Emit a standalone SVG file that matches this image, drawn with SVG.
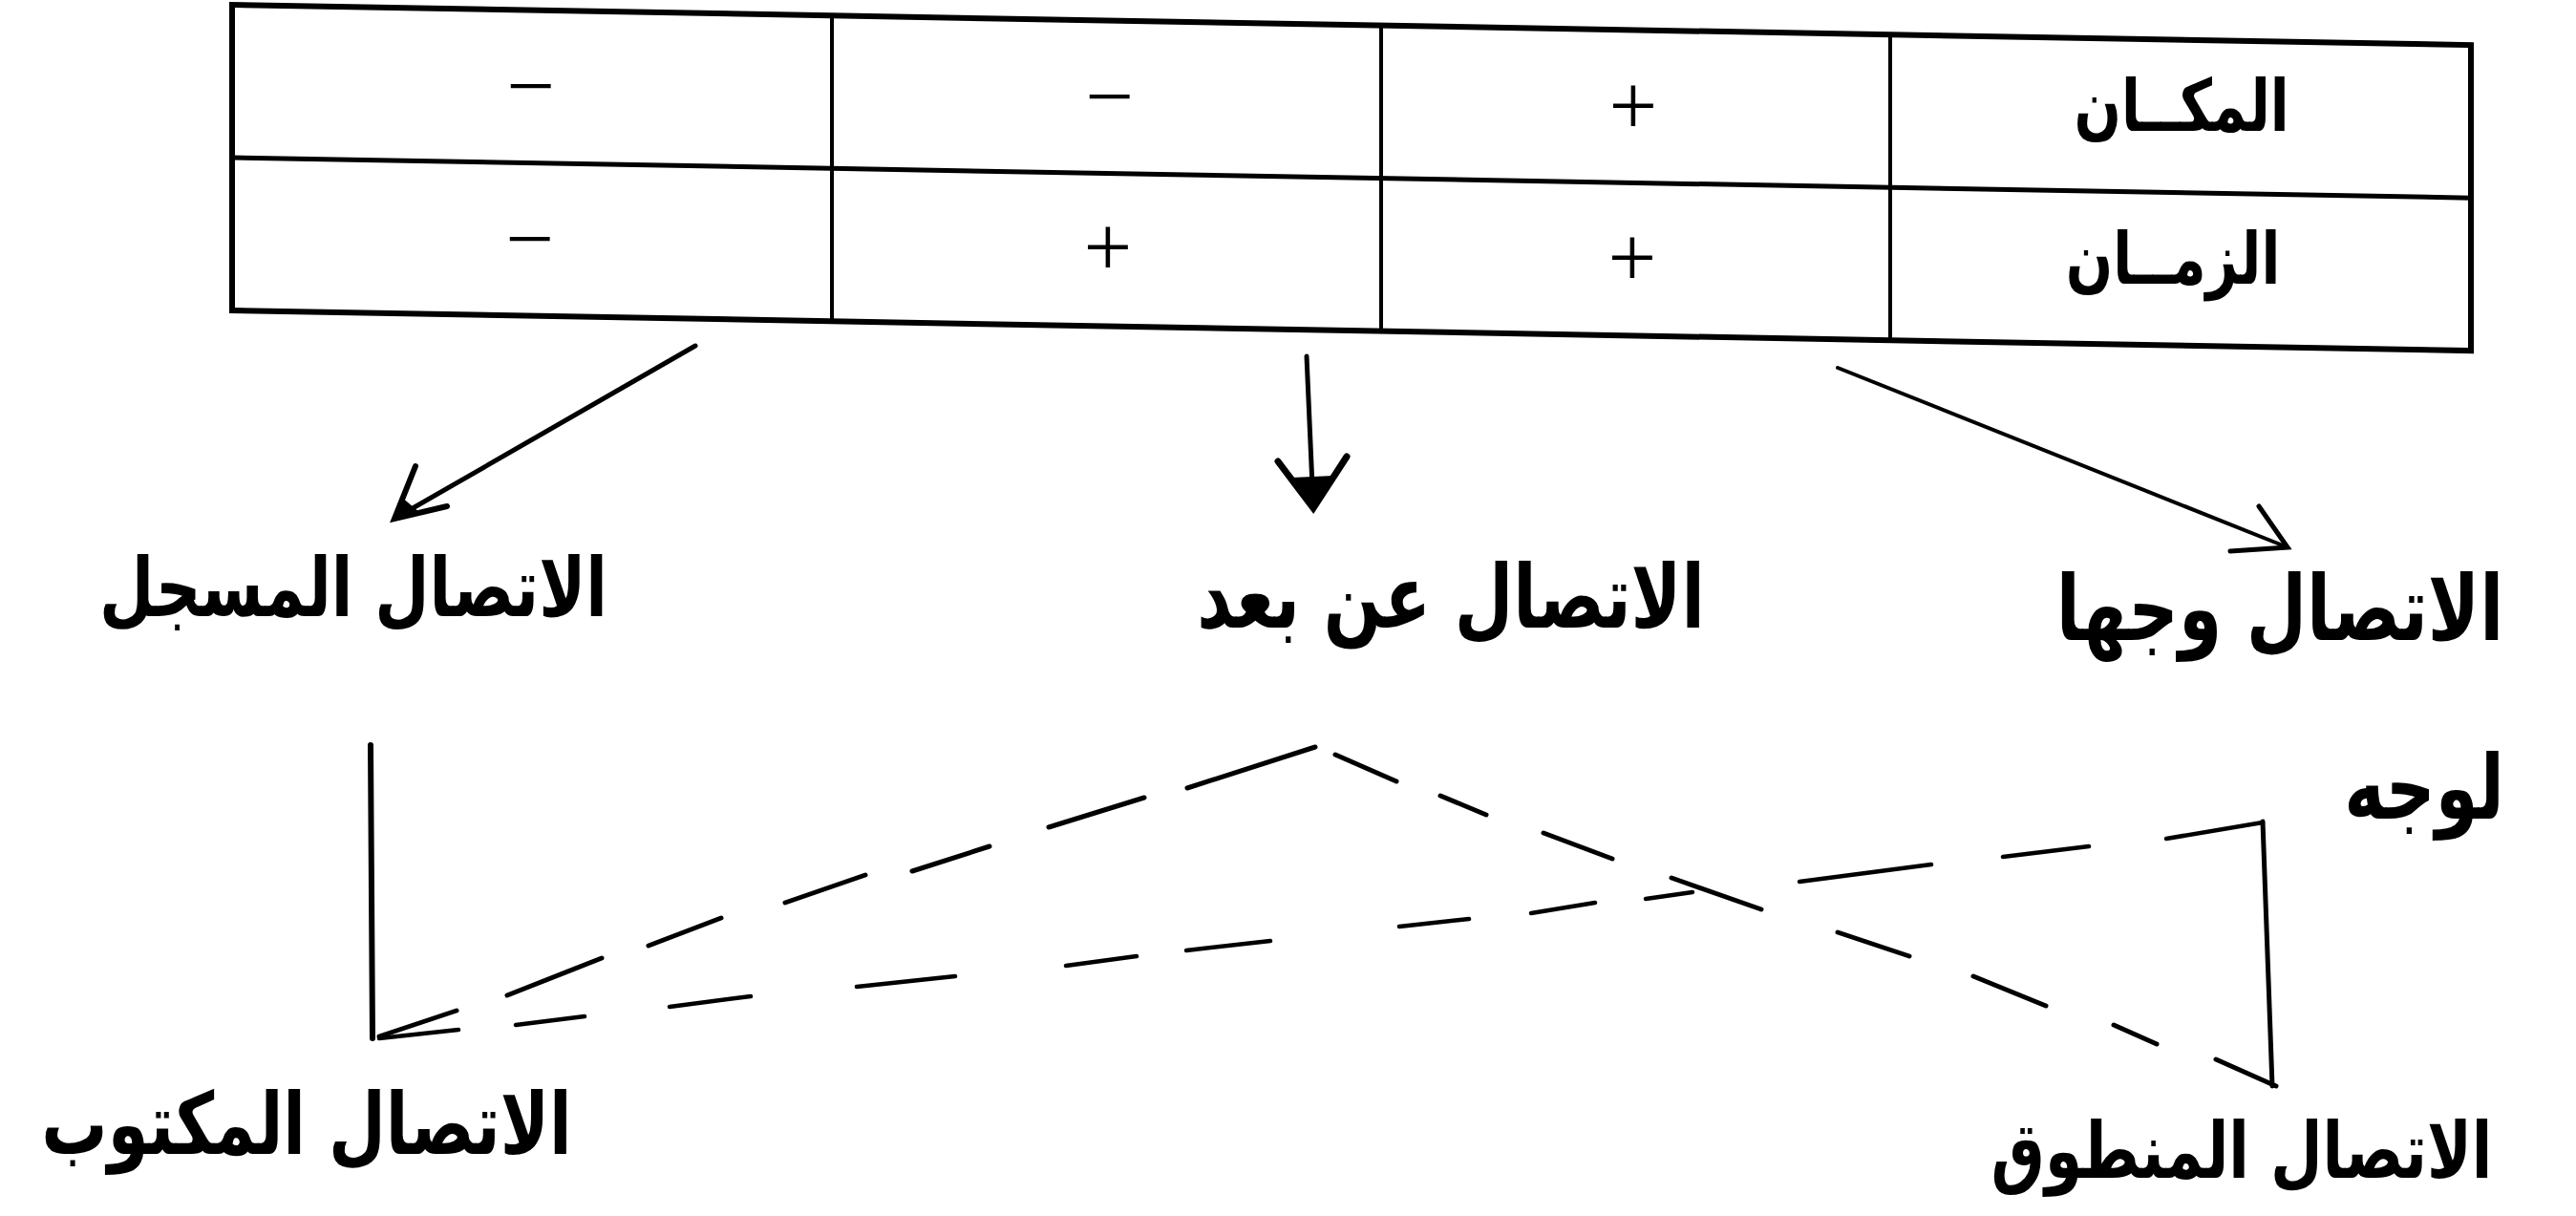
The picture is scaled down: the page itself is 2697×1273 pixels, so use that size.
<svg xmlns="http://www.w3.org/2000/svg" width="2697" height="1273" viewBox="0 0 2697 1273">
<style>
.bg{fill:#fff}
.grid-o{fill:none;stroke:#000;stroke-width:6}
.grid-h{stroke:#000;stroke-width:5}
.grid-v{stroke:#000;stroke-width:4}
.sym{font-family:"Liberation Serif",serif;font-size:90px;fill:#000;text-anchor:middle}
.ar{font-family:"DejaVu Sans",sans-serif;font-weight:bold;fill:#000;text-anchor:middle}
.cell{font-size:58px}
.lbl{font-size:70px}
.shaft{fill:none;stroke:#000;stroke-width:5;stroke-linecap:round}
.head{fill:none;stroke:#000;stroke-width:6;stroke-linecap:round;stroke-linejoin:miter}
.solid{fill:none;stroke:#000;stroke-width:6;stroke-linecap:round}
.dash{fill:none;stroke:#000;stroke-width:5;stroke-linecap:round}
</style>
<rect class="bg" x="0" y="0" width="2697" height="1273"/>

<g id="table">
  <g transform="translate(243,5) skewY(1.03)">
    <rect class="grid-o" x="0" y="0" width="2344" height="320"/>
    <line class="grid-h" x1="0" y1="160" x2="2344" y2="160"/>
    <line class="grid-v" x1="628" y1="0" x2="628" y2="320"/>
    <line class="grid-v" x1="1203" y1="0" x2="1203" y2="320"/>
    <line class="grid-v" x1="1736" y1="0" x2="1736" y2="320"/>
  </g>
  <g id="row-place">
    <text class="ar cell" transform="translate(2284,137) scale(1,1.3)">المكــان</text>
    <text class="sym" x="1710" y="141">+</text>
    <text class="sym" x="1162" y="131">−</text>
    <text class="sym" x="556" y="120">−</text>
  </g>
  <g id="row-time">
    <text class="ar cell" transform="translate(2275,297) scale(1,1.3)">الزمــان</text>
    <text class="sym" x="1709" y="300">+</text>
    <text class="sym" x="1160" y="289">+</text>
    <text class="sym" x="555" y="280">−</text>
  </g>
</g>

<g id="node-recorded"><text class="ar lbl" style="font-size:66px" transform="translate(370,645) scale(1,1.3)">الاتصال المسجل</text></g>
<g id="node-remote"><text class="ar lbl" style="font-size:71px" transform="translate(1519,657) scale(1,1.3)">الاتصال عن بعد</text></g>
<g id="node-face"><text class="ar lbl" style="font-size:73px" transform="translate(2387,670) scale(1,1.3)">الاتصال وجها</text></g>
<g id="node-face2"><text class="ar lbl" style="font-size:72px" transform="translate(2538,857) scale(1,1.3)">لوجه</text></g>
<g id="node-written"><text class="ar lbl" style="font-size:69px" transform="translate(321,1208) scale(1,1.3)">الاتصال المكتوب</text></g>
<g id="node-spoken"><text class="ar lbl" style="font-size:63px" transform="translate(2347,1233) scale(1,1.3)">الاتصال المنطوق</text></g>

<g id="connectors">
  <path class="shaft" d="M728,362 L413,543"/>
  <path class="head" d="M435,488 L413,543 L468,530"/>
  <path d="M420,520 L413,543 L440,537 Z" fill="#000"/>
  <path class="shaft" d="M1368,373 L1375,532"/>
  <path class="head" style="stroke-width:7" d="M1338,483 L1375,532 L1410,478"/>
  <path d="M1352,500 L1375,532 L1396,498 Z" fill="#000"/>
  <path class="shaft" style="stroke-width:4" d="M1924,385 L2395,573"/>
  <path class="head" style="stroke-width:5" d="M2365,530 L2395,573 L2335,577"/>

  <path class="solid" d="M388,780 L390,1087"/>
  <path class="solid" style="stroke-width:5" d="M2369,860 L2379,1137"/>

  <path class="dash" d="M1377,782 L1243,825 M1198,835 L1098,866 M1036,886 L955,912 M906,916 L822,945 M755,961 L679,990 M630,1003 L531,1042 M478,1058 L397,1085"/>
  <path class="dash" style="stroke-width:4.5" d="M2369,861 L2268,878 M2187,886 L2097,897 M2022,905 L1884,923 M1772,934 L1723,941 M1670,945 L1603,956 M1538,962 L1465,970 M1330,985 L1242,995 M1190,1001 L1116,1011 M1000,1022 L897,1033 M786,1043 L701,1054 M612,1064 L540,1073 M480,1078 L397,1087"/>
  <path class="dash" d="M1398,790 L1462,818 M1508,833 L1556,853 M1616,872 L1688,899 M1750,919 L1844,952 M1924,976 L1999,1001 M2066,1022 L2142,1053 M2213,1073 L2258,1093 M2320,1109 L2383,1137"/>
</g>
</svg>
